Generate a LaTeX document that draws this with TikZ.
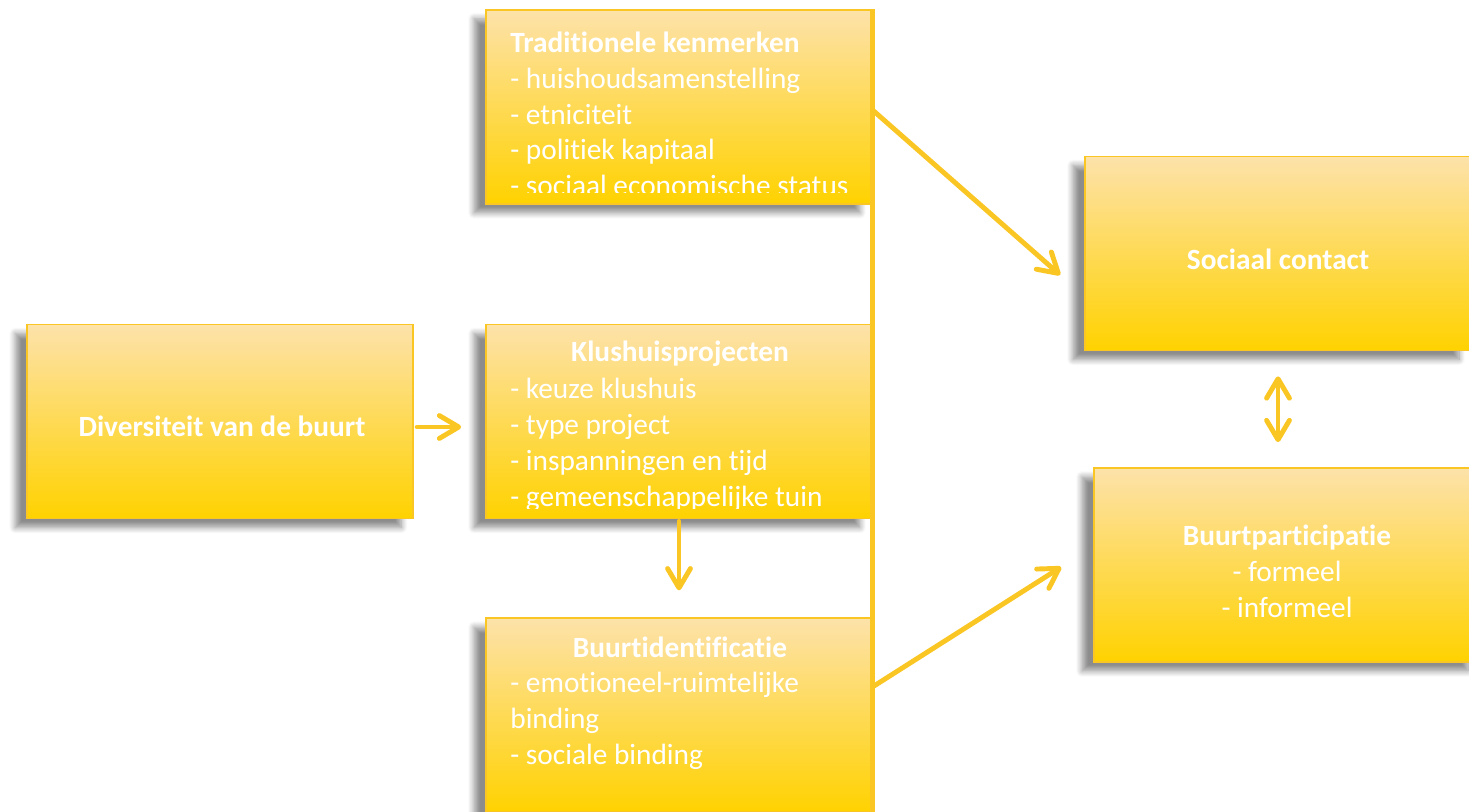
\documentclass[tikz,border=0pt]{standalone}
\usepackage{fontspec}
\setmainfont{Carlito}[Ligatures=NoCommon]
\usetikzlibrary{positioning}
\usetikzlibrary{arrows.meta}
\usetikzlibrary{shadows.blur}

\definecolor{goud}{RGB}{250,198,35}
\definecolor{perzik}{RGB}{253,226,170}
\definecolor{zon}{RGB}{255,210,0}

\tikzset{
  blok/.style={draw=goud, line width=1pt, top color=perzik, bottom color=zon,
    minimum width=7.72cm, minimum height=3.88cm, inner sep=0pt,
    blur shadow={shadow xshift=-0.24cm, shadow yshift=-0.18cm, shadow opacity=45, shadow blur radius=0.12cm, shadow blur steps=8}},
  kop/.style={text=white, font=\fontsize{16.7}{20.4}\selectfont\bfseries, inner sep=0pt},
  lijst/.style={text=white, font=\fontsize{16.7}{20.4}\selectfont, align=left, inner sep=0pt},
  punt/.tip={Straight Barb[length=11pt,width=13pt,round]},
  pijl/.style={draw=goud, line width=2.8pt, line cap=round, -punt},
  lijn/.style={draw=goud, line width=2.8pt},
}

\begin{document}
\begin{tikzpicture}[x=0.02cm, y=-0.02cm, node distance=1.42cm]
\useasboundingbox (0,0) rectangle (1469,811);

% blokken
\node[blok] (klus) at (679,421.5) {};
\node[blok, above=2.38cm of klus] (trad) {};
\node[blok, below=1.96cm of klus] (buurtid) {};
\node[blok, left=of klus] (div) {};
\node[blok] (soc) at (1278,253.5) {};
\node[blok] (part) at (1287,565) {};

\draw[lijn] (trad.north east) -- (buurtid.south east);

% teksten
\begin{scope}
\clip (trad.north west) rectangle ([yshift=0.24cm]trad.south east);
\node[lijst, anchor=north west] (tradtxt) at (510,31.5) {\textbf{Traditionele kenmerken}\\- huishoudsamenstelling\\- etniciteit\\- politiek kapitaal\\- sociaal economische status};
\end{scope}

\node[kop] (klustitel) at (680,354) {Klushuisprojecten};
\begin{scope}
\clip (klus.north west) rectangle ([yshift=0.22cm]klus.south east);
\node[lijst, anchor=north west] (kluslijst) at (510,378) {- keuze klushuis\\- type project\\- inspanningen en tijd\\- gemeenschappelijke tuin};
\end{scope}

\node[kop] (buurttitel) at (680,647) {Buurtidentificatie};
\node[lijst, anchor=north west] (buurtlijst) at (510,672) {- emotioneel-ruimtelijke\\binding\\- sociale binding};

\node[kop] (divtxt) at (222,426) {Diversiteit van de buurt};
\node[kop] (soctxt) at (1278,259) {Sociaal contact};
\node[lijst, align=center] (parttxt) at (1287,571) {\textbf{Buurtparticipatie}\\- formeel\\- informeel};

% pijlen
\draw[pijl, shorten <=0.06cm, shorten >=0.48cm] ([yshift=-0.11cm]div.east) -- ([yshift=-0.11cm]klus.west);
\draw[pijl, shorten <=0.04cm, shorten >=0.54cm] (klus.south) -- (buurtid.north);
\draw[pijl] ([yshift=-0.07cm]trad.east) -- ([shift={(-0.48cm,-0.43cm)}]soc.west);
\draw[pijl] ([yshift=0.57cm]buurtid.east) -- ([shift={(-0.64cm,-0.04cm)}]part.west);
\draw[pijl, punt-punt, shorten <=0.5cm, shorten >=0.5cm] (soc.south) -- (soc.south |- part.north);
\end{tikzpicture}
\end{document}
